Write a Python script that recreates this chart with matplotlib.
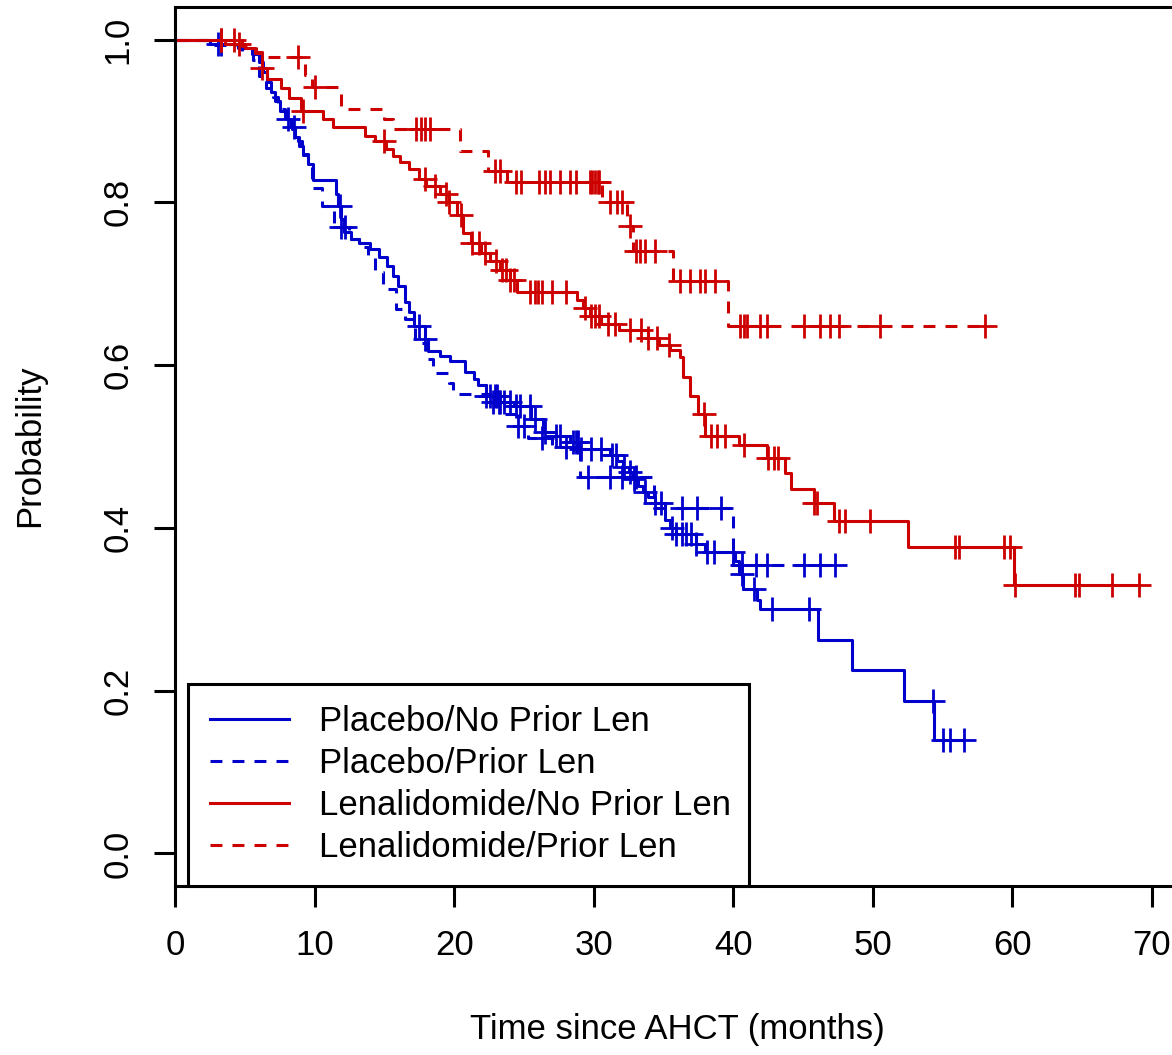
import numpy as np
import matplotlib
matplotlib.use("Agg")
from matplotlib import pyplot as plt
from matplotlib.lines import Line2D

plt.rcParams["font.family"] = ["Liberation Sans", "DejaVu Sans"]

BLUE = "#0000CD"
RED = "#CD0000"

labels = [
    "Placebo/No Prior Len",
    "Placebo/Prior Len",
    "Lenalidomide/No Prior Len",
    "Lenalidomide/Prior Len",
]

# Placebo / No Prior Len
pla_noprior_times = [2.5, 4.5, 5.5, 6.0, 6.3, 6.6, 6.9, 7.2, 7.5, 8.0,
                     8.3, 8.6, 8.9, 9.2, 9.5, 9.9, 11.5, 11.7, 11.9, 12.1,
                     12.6, 13.2, 14.0, 14.6, 15.2, 15.6, 16.0, 16.5, 16.8, 17.1,
                     17.9, 18.1, 19.0, 19.7, 20.8, 21.4, 21.7, 22.3, 23.3, 24.3,
                     25.5, 26.4, 27.3, 28.3, 29.0, 31.2, 31.7, 32.1, 32.5, 32.8,
                     33.2, 33.5, 33.9, 34.4, 35.1, 35.5, 35.9, 37.3, 38.0, 40.1,
                     40.4, 40.7, 41.7, 41.9, 46.1, 48.5, 52.2, 54.4]
pla_noprior_surv = [0.995, 0.99, 0.982, 0.972, 0.96, 0.948, 0.935, 0.925, 0.912, 0.902,
                    0.892, 0.88, 0.869, 0.858, 0.847, 0.828, 0.81, 0.795, 0.78, 0.764,
                    0.755, 0.75, 0.743, 0.733, 0.722, 0.71, 0.697, 0.678, 0.665, 0.648,
                    0.632, 0.617, 0.611, 0.605, 0.591, 0.583, 0.575, 0.562, 0.555, 0.55,
                    0.534, 0.518, 0.513, 0.505, 0.497, 0.49, 0.482, 0.475, 0.469, 0.46,
                    0.451, 0.444, 0.438, 0.43, 0.41, 0.40, 0.392, 0.38, 0.37, 0.359,
                    0.343, 0.325, 0.312, 0.30, 0.262, 0.225, 0.187, 0.14]
pla_noprior_cens = [3.1, 3.3, 8.1, 8.5, 11.8, 17.5, 17.9, 22.3, 22.6, 22.9,
                    23.1, 23.3, 23.6, 24.0, 24.4, 24.7, 25.4, 25.8, 26.5, 27.3,
                    27.6, 28.5, 28.7, 28.9, 29.1, 29.8, 30.5, 31.3, 31.6, 32.2,
                    32.6, 32.9, 33.7, 34.4, 34.8, 35.6, 35.9, 36.3, 36.6, 37.0,
                    37.3, 38.1, 38.6, 40.0, 40.6, 41.5, 42.8, 45.4, 54.3, 55.0,
                    55.5, 56.5]

# Placebo / Prior Len
pla_prior_times = [2.6, 4.8, 5.6, 6.0, 6.5, 7.0, 7.4, 7.9, 8.4, 8.8,
                   9.1, 9.5, 9.8, 10.5, 11.4, 12.5, 13.2, 13.8, 14.3, 14.9,
                   15.8, 16.5, 17.2, 18.0, 18.5, 19.6, 19.9, 22.6, 23.6, 24.4,
                   25.3, 27.0, 29.0, 34.3, 40.0]
pla_prior_surv = [0.993, 0.985, 0.975, 0.955, 0.94, 0.93, 0.915, 0.905, 0.89, 0.875,
                  0.86, 0.845, 0.818, 0.796, 0.77, 0.755, 0.745, 0.735, 0.715, 0.694,
                  0.669, 0.657, 0.627, 0.608, 0.59, 0.578, 0.565, 0.555, 0.54, 0.525,
                  0.51, 0.50, 0.462, 0.425, 0.355]
pla_prior_cens = [11.9, 12.2, 22.8, 23.2, 24.6, 25.0, 26.3, 28.0, 29.6, 31.2,
                  32.0, 33.0, 36.3, 37.4, 39.1, 40.6, 41.6, 42.4, 45.1, 46.2,
                  47.3]

# Lenalidomide / No Prior Len
len_noprior_times = [3.6, 5.0, 5.7, 6.2, 6.6, 7.6, 8.2, 9.0, 10.6, 11.3,
                     13.6, 14.3, 15.1, 15.6, 16.1, 16.8, 17.5, 18.0, 19.0, 19.6,
                     20.2, 20.6, 21.2, 21.9, 22.6, 23.3, 24.0, 24.5, 28.8, 29.2,
                     29.7, 30.5, 31.8, 33.9, 34.7, 35.5, 36.2, 36.4, 36.9, 37.5,
                     38.0, 40.4, 42.4, 43.7, 44.1, 45.8, 47.2, 52.5, 60.1]
len_noprior_surv = [0.995, 0.99, 0.983, 0.965, 0.952, 0.94, 0.928, 0.912, 0.903, 0.893,
                    0.882, 0.875, 0.866, 0.857, 0.85, 0.841, 0.829, 0.82, 0.81, 0.80,
                    0.785, 0.762, 0.75, 0.738, 0.728, 0.717, 0.705, 0.69, 0.68, 0.67,
                    0.66, 0.65, 0.643, 0.633, 0.625, 0.618, 0.61, 0.585, 0.562, 0.54,
                    0.513, 0.502, 0.486, 0.468, 0.448, 0.43, 0.408, 0.376, 0.33]
len_noprior_cens = [3.3, 4.6, 6.2, 9.2, 15.0, 17.9, 18.6, 19.4, 19.6, 20.5,
                    21.3, 21.8, 22.2, 23.0, 23.4, 23.7, 24.0, 24.3, 25.4, 25.8,
                    26.0, 26.3, 27.0, 28.0, 29.4, 29.8, 30.1, 30.4, 31.0, 31.5,
                    32.6, 33.4, 33.9, 34.5, 35.4, 37.9, 38.4, 38.8, 39.4, 40.8,
                    42.5, 42.9, 43.2, 45.8, 46.0, 47.6, 48.0, 49.8, 55.9, 56.2,
                    59.4, 59.8, 60.2, 64.5, 64.8, 67.1, 69.1]

# Lenalidomide / Prior Len
len_prior_times = [4.8, 5.8, 6.2, 9.3, 9.8, 11.9, 15.0, 15.6, 20.4, 22.4,
                   23.8, 30.6, 32.4, 32.8, 35.7, 39.6]
len_prior_surv = [0.992, 0.985, 0.978, 0.957, 0.942, 0.915, 0.903, 0.89, 0.863, 0.838,
                  0.825, 0.80, 0.771, 0.74, 0.703, 0.648]
len_prior_cens = [3.3, 4.2, 8.8, 10.0, 17.3, 17.6, 17.9, 18.3, 22.9, 23.3,
                  24.4, 24.8, 26.1, 26.5, 26.9, 27.6, 28.3, 28.7, 29.7, 29.9,
                  30.1, 30.3, 30.4, 31.2, 31.7, 32.0, 32.6, 33.0, 33.3, 33.7,
                  34.4, 36.2, 36.9, 37.6, 38.0, 38.7, 40.5, 40.8, 41.0, 41.9,
                  42.4, 45.1, 46.2, 46.9, 47.6, 50.5, 58.0]

DASH = (0, (3.9, 3.3))


def km_curve(ax, times, surv, cens, color, ls):
    times = np.asarray(times)
    surv = np.asarray(surv)
    cens = np.asarray(cens)
    t_end = max(times[-1], cens[-1])
    x = np.concatenate([[0.0], times, [t_end]])
    y = np.concatenate([[1.0], surv, [surv[-1]]])
    ax.plot(x, y, drawstyle="steps-post", color=color, lw=2.2, linestyle=ls)
    # censor marks sit on the curve value at that time
    idx = np.searchsorted(times, cens, side="right")
    y_c = np.concatenate([[1.0], surv])[idx]
    ax.plot(cens, y_c, linestyle="none", marker="+", ms=17, mew=2.0, color=color)


fig = plt.figure(figsize=(11.72, 10.55), dpi=100)
xmax = 72.0
ax = fig.add_axes([175 / 1172, 169 / 1055, xmax * 13.957 / 1172, 879 / 1055])

km_curve(ax, pla_noprior_times, pla_noprior_surv, pla_noprior_cens, BLUE, "-")
km_curve(ax, pla_prior_times, pla_prior_surv, pla_prior_cens, BLUE, DASH)
km_curve(ax, len_noprior_times, len_noprior_surv, len_noprior_cens, RED, "-")
km_curve(ax, len_prior_times, len_prior_surv, len_prior_cens, RED, DASH)

ax.set_xlim(0, xmax)
ax.set_ylim(-0.04, 1.04)
ax.set_xticks(np.arange(0, 71, 10))
ax.set_yticks(np.arange(0, 1.01, 0.2))
ax.set_yticklabels([f"{v:.1f}" for v in np.arange(0, 1.01, 0.2)],
                   rotation=90, va="center", ha="right")
ax.tick_params(axis="both", length=15, width=2.2, labelsize=25)
ax.tick_params(axis="x", pad=16)
ax.tick_params(axis="y", pad=14)
for sp in ax.spines.values():
    sp.set_linewidth(2.2)

fig.text(677 / 1172, 1 - 1030 / 1055, "Time since AHCT (months)",
         ha="center", va="center", fontsize=25)
fig.text(30 / 1172, 1 - 446 / 1055, "Probability", rotation=90,
         ha="center", va="center", fontsize=25)

handles = [
    Line2D([], [], color=BLUE, lw=2.2, linestyle="-"),
    Line2D([], [], color=BLUE, lw=2.2, linestyle=DASH),
    Line2D([], [], color=RED, lw=2.2, linestyle="-"),
    Line2D([], [], color=RED, lw=2.2, linestyle=DASH),
]
leg = ax.legend(handles, labels, loc="lower left",
                bbox_to_anchor=(13 / 1005, 0, 561 / 1005, 0.1), mode="expand",
                borderaxespad=0, fontsize=25, handlelength=2.3,
                handletextpad=0.86, labelspacing=0.26, borderpad=0.62,
                fancybox=False, framealpha=1, edgecolor="black")
leg.get_frame().set_linewidth(2.2)

fig.savefig("out.png", dpi=100)
